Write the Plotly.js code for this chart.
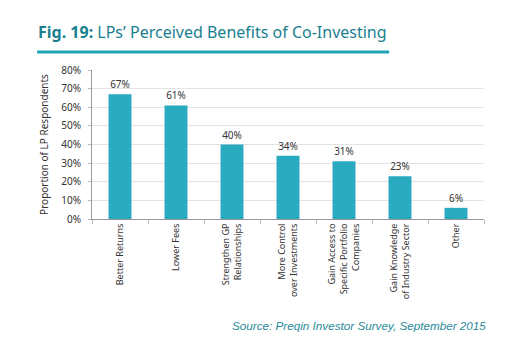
<!DOCTYPE html>
<html>
<head>
<meta charset="utf-8">
<script src="https://cdn.plot.ly/plotly-3.0.1.min.js"></script>
<style>html,body{margin:0;padding:0;background:#fff;}#chart{width:507px;height:356px;}</style>
</head>
<body>
<div id="chart"></div>
<script>
const categories = ["Better Returns", "Lower Fees", "Strengthen GP<br>Relationships", "More Control<br>over Investments", "Gain Access to<br>Specific Portfolio<br>Companies", "Gain Knowledge<br>of Industry Sector", "Other"];
const values = [67, 61, 40, 34, 31, 23, 6];
const valueLabels = values.map(v => v + "%");
const yTicks = [0, 10, 20, 30, 40, 50, 60, 70, 80];

const font = "Noto Sans, DejaVu Sans, sans-serif";
const trace = {
  type: "bar",
  x: categories,
  y: values,
  text: valueLabels,
  textposition: "outside",
  cliponaxis: false,
  textfont: {family: font, size: 10, color: "#333"},
  marker: {color: "#2aaabf"},
  hoverinfo: "skip"
};
const layout = {
  width: 507, height: 356,
  margin: {l: 92, r: 23, t: 70, b: 137},
  paper_bgcolor: "#fff", plot_bgcolor: "#fff",
  bargap: 0.59,
  showlegend: false,
  font: {family: font, size: 10, color: "#333"},
  xaxis: {
    tickangle: -90,
    tickson: "boundaries",
    ticks: "outside", ticklen: 4, tickcolor: "#bbb",
    showline: true, linecolor: "#999", linewidth: 1,
    showgrid: false,
    tickfont: {family: font, size: 9, color: "#333"}
  },
  yaxis: {
    range: [0, 80],
    tickvals: yTicks,
    ticktext: yTicks.map(v => v + "%"),
    showline: true, linecolor: "#999", linewidth: 1,
    ticks: "outside", ticklen: 3, tickcolor: "#bbb",
    ticklabelstandoff: 5,
    gridcolor: "#e3e3e3",
    zeroline: false,
    tickfont: {family: font, size: 10, color: "#333"},
    title: {text: "Proportion of LP Respondents", font: {family: font, size: 10, color: "#333"}, standoff: 10}
  },
  shapes: [{
    type: "line", xref: "paper", yref: "paper",
    x0: -0.14, x1: 0.758, y0: 1.12, y1: 1.12,
    line: {color: "#1fa5b5", width: 3}
  }],
  annotations: [
    {
      xref: "paper", yref: "paper", x: -0.142, y: 1.165, xanchor: "left", yanchor: "bottom",
      text: "<b>Fig. 19:</b> LPs\u2019 Perceived Benefits of Co-Investing",
      showarrow: false,
      font: {family: font, size: 16, color: "#1a7f8f"}
    },
    {
      xref: "paper", yref: "paper", x: 1.01, y: -0.66, xanchor: "right", yanchor: "top",
      text: "<i>Source: Preqin Investor Survey, September 2015</i>",
      showarrow: false,
      font: {family: "Liberation Sans, Arial, sans-serif", size: 11.7, color: "#2a8b9b"}
    }
  ]
};
Plotly.newPlot("chart", [trace], layout, {staticPlot: true, displayModeBar: false});
</script>
</body>
</html>
